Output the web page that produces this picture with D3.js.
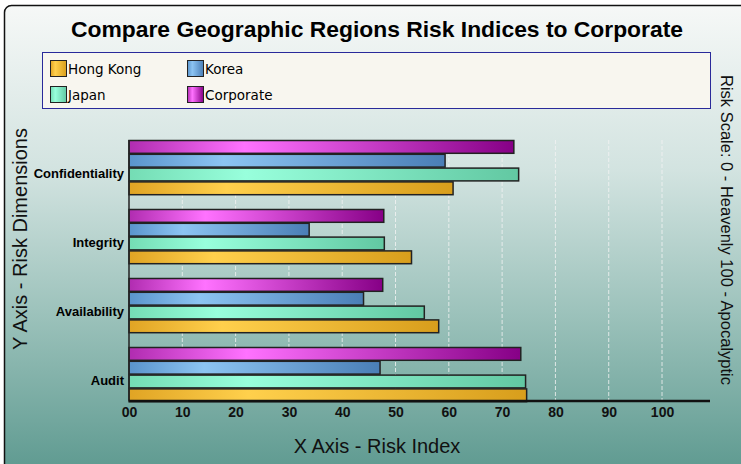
<!DOCTYPE html>
<html>
<head>
<meta charset="utf-8">
<script src="https://cdn.jsdelivr.net/npm/d3@7"></script>
<style>
  body { margin: 0; background: #fff; }
  svg { display: block; font-family: "Liberation Sans", Arial, sans-serif; }
</style>
</head>
<body>
<div class="container"></div>
<script>
const categories = ['Confidentiality', 'Integrity', 'Availability', 'Audit'];
const seriesNames = ['Hong Kong', 'Japan', 'Korea', 'Corporate'];
const hongKong = [60.8, 53.0, 58.1, 74.6];
const japan = [73.1, 47.9, 55.4, 74.4];
const korea = [59.3, 33.8, 44.0, 47.1];
const corporate = [72.2, 47.8, 47.6, 73.5];
const xTicks = [0, 10, 20, 30, 40, 50, 60, 70, 80, 90, 100];

const w = 741, h = 464;
const margin = { top: 140, left: 129, right: 31, bottom: 63 };
const width = w - margin.left - margin.right;
const height = h - margin.top - margin.bottom;

const colors = {
  'Hong Kong': ['#e0a424', '#ffd04c', '#d89e1c'],
  'Japan': ['#74dcb4', '#98ffdc', '#62c8a2'],
  'Korea': ['#5a94cc', '#8cc4f2', '#4a7eb6'],
  'Corporate': ['#b02cb0', '#ff72ff', '#860086']
};

const values = { 'Hong Kong': hongKong, 'Japan': japan, 'Korea': korea, 'Corporate': corporate };

const svg = d3.select('.container').append('svg')
  .attr('width', w)
  .attr('height', h);

const defs = svg.append('defs');
const bg = defs.append('linearGradient')
  .attr('id', 'bg').attr('x1', 0).attr('y1', 0).attr('x2', 0).attr('y2', 1);
bg.append('stop').attr('offset', '0%').attr('stop-color', '#f6f8f7');
bg.append('stop').attr('offset', '35%').attr('stop-color', '#d2e3e0');
bg.append('stop').attr('offset', '65%').attr('stop-color', '#9cc2bb');
bg.append('stop').attr('offset', '100%').attr('stop-color', '#5b988e');

seriesNames.forEach((s, i) => {
  const g = defs.append('linearGradient').attr('id', 'g' + i)
    .attr('x1', 0).attr('y1', 0).attr('x2', 1).attr('y2', 0);
  g.append('stop').attr('offset', '0%').attr('stop-color', colors[s][0]);
  g.append('stop').attr('offset', '30%').attr('stop-color', colors[s][1]);
  g.append('stop').attr('offset', '100%').attr('stop-color', colors[s][2]);
});

// frame
svg.append('rect')
  .attr('x', 4.5).attr('y', 5.5)
  .attr('width', w + 10).attr('height', h + 10)
  .attr('rx', 7)
  .attr('fill', 'url(#bg)')
  .attr('stroke', '#111')
  .attr('stroke-width', 1.5);

svg.append('text')
  .attr('x', 377).attr('y', 37)
  .attr('text-anchor', 'middle')
  .style('font-size', '22px')
  .style('font-weight', 'bold')
  .attr('textLength', 612)
  .attr('lengthAdjust', 'spacingAndGlyphs')
  .text('Compare Geographic Regions Risk Indices to Corporate');

// legend
const legendOrder = ['Hong Kong', 'Korea', 'Japan', 'Corporate'];
svg.append('rect')
  .attr('x', 42.5).attr('y', 52.5)
  .attr('width', 668).attr('height', 56)
  .attr('fill', '#f8f6ef')
  .attr('stroke', '#2a2a9a')
  .attr('stroke-width', 1);

const legend = svg.selectAll('.legend')
  .data(legendOrder)
  .enter()
  .append('g')
    .attr('class', 'legend')
    .attr('transform', (d, i) => `translate(${50 + (i % 2) * 137}, ${60 + Math.floor(i / 2) * 26})`);

legend.append('rect')
  .attr('x', 0.5).attr('y', 0.5)
  .attr('width', 16).attr('height', 16)
  .attr('fill', d => `url(#g${seriesNames.indexOf(d)})`)
  .attr('stroke', '#222');

legend.append('text')
  .attr('x', 18).attr('y', 13.5)
  .style('font-family', '"DejaVu Sans", Verdana, sans-serif')
  .style('font-size', '13.5px')
  .text(d => d);

const chart = svg.append('g')
  .attr('transform', `translate(${margin.left}, ${margin.top})`);

const x = d3.scaleLinear().domain([0, 109]).range([0, width]);
const y = d3.scaleBand().domain(categories).range([0, 276]);
const drawOrder = ['Corporate', 'Korea', 'Japan', 'Hong Kong'];
const yInner = d3.scaleBand().domain(drawOrder).range([0, y.bandwidth() * 4 / 5]);

// gridlines
chart.selectAll('.grid')
  .data(xTicks.slice(1))
  .enter()
  .append('line')
    .attr('x1', d => x(d)).attr('x2', d => x(d))
    .attr('y1', 0).attr('y2', height)
    .attr('stroke', '#f4f4f4')
    .attr('stroke-width', 1)
    .attr('stroke-dasharray', '4,2')
    .attr('opacity', 0.8);

const groups = chart.selectAll('.cat')
  .data(categories)
  .enter()
  .append('g')
    .attr('transform', d => `translate(0, ${y(d)})`);

groups.selectAll('rect')
  .data((c, ci) => drawOrder.map(s => ({ s, v: values[s][ci] })))
  .enter()
  .append('rect')
    .attr('x', 0)
    .attr('y', d => yInner(d.s) + 0.5)
    .attr('width', d => x(d.v))
    .attr('height', yInner.bandwidth() - 1)
    .attr('fill', d => `url(#g${seriesNames.indexOf(d.s)})`)
    .attr('stroke', '#222')
    .attr('stroke-width', 1.5);

// category labels
chart.selectAll('.catlabel')
  .data(categories)
  .enter()
  .append('text')
    .attr('x', -5)
    .attr('y', d => y(d) + y.bandwidth() / 2 + 3)
    .attr('text-anchor', 'end')
    .style('font-size', '13px')
    .style('font-weight', 'bold')
    .text(d => d);

// axes lines
chart.append('line')
  .attr('x1', 0).attr('x2', 0).attr('y1', 0).attr('y2', height)
  .attr('stroke', '#222').attr('stroke-width', 1.5);
chart.append('line')
  .attr('x1', 0).attr('x2', x(109)).attr('y1', height).attr('y2', height)
  .attr('stroke', '#111').attr('stroke-width', 2.5);

const xAxis = d3.axisBottom(x)
  .tickValues(xTicks)
  .tickSize(0)
  .tickPadding(6)
  .tickFormat(d => d === 0 ? '00' : d);

chart.append('g')
  .attr('transform', `translate(0, ${height})`)
  .call(xAxis)
  .call(g => g.select('.domain').remove())
  .selectAll('text')
    .attr('fill', '#111')
    .style('font-family', '"Liberation Sans Narrow", "Liberation Sans", sans-serif')
    .style('font-size', '14px')
    .style('font-weight', 'bold');

svg.append('text')
  .attr('x', 377).attr('y', 453)
  .attr('text-anchor', 'middle')
  .style('font-size', '20px')
  .attr('fill', '#111')
  .text('X Axis - Risk Index');

svg.append('text')
  .attr('transform', 'translate(27, 239) rotate(-90)')
  .attr('text-anchor', 'middle')
  .style('font-size', '20px')
  .attr('fill', '#111')
  .text('Y Axis - Risk Dimensions');

svg.append('text')
  .attr('transform', 'translate(721, 230) rotate(90)')
  .attr('text-anchor', 'middle')
  .style('font-size', '16px')
  .attr('fill', '#111')
  .attr('textLength', 310)
  .attr('lengthAdjust', 'spacingAndGlyphs')
  .text('Risk Scale: 0 - Heavenly  100 - Apocalyptic');
</script>
</body>
</html>
